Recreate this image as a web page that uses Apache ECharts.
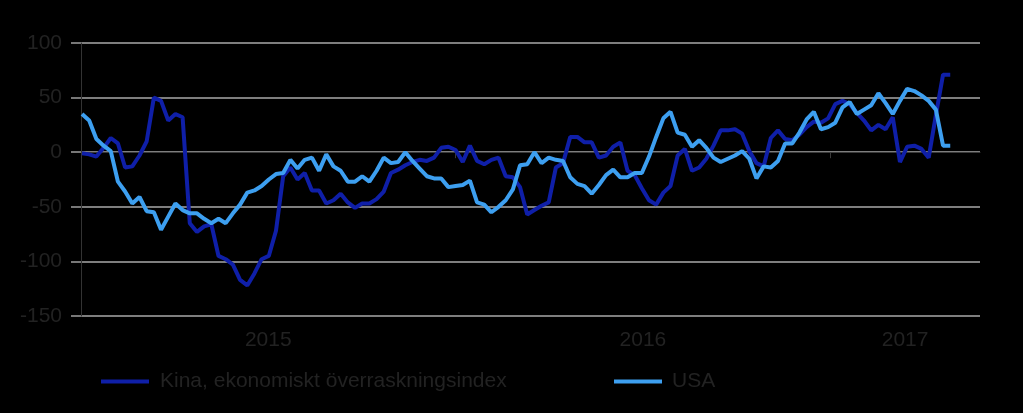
<!DOCTYPE html>
<html>
<head>
<meta charset="utf-8">
<script src="https://cdn.jsdelivr.net/npm/echarts@6/dist/echarts.min.js"></script>
<style>
  html, body { margin: 0; padding: 0; background: #000; }
  #chart { width: 1023px; height: 413px; }
</style>
</head>
<body>
<div id="chart"></div>
<script>
// Weekly observations, first one on this date
const firstWeek = '2015-01-02';

// Kina, ekonomiskt överraskningsindex (weekly)
const kina = [
  -1, -2, -4, 4, 13, 8, -14, -13, -3, 10,
  50, 47, 29, 35, 32, -65, -73, -68, -66, -95,
  -98, -103, -117, -122, -111, -98, -95, -72, -22, -14,
  -25, -19, -35, -35, -47, -44, -38, -46, -51, -47,
  -47, -43, -36, -19, -16, -12, -9, -7, -8, -5,
  4, 5, 2, -9, 6, -8, -11, -7, -5, -22,
  -23, -32, -57, -53, -49, -46, -14, -10, 14, 14,
  9, 9, -5, -3, 5, 9, -17, -21, -33, -44,
  -48, -37, -31, -3, 3, -17, -14, -6, 6, 20,
  20, 21, 17, 1, -10, -13, 13, 20, 12, 11,
  16, 23, 28, 27, 31, 44, 47, 44, 36, 29,
  20, 25, 21, 32, -9, 5, 6, 3, -5, 34,
  71, 71
];

// USA (weekly)
const usa = [
  35, 29, 12, 6, 1, -27, -36, -47, -41, -54,
  -55, -71, -59, -47, -53, -56, -56, -61, -65, -61,
  -65, -56, -48, -37, -35, -31, -25, -20, -19, -7,
  -15, -7, -5, -17, -2, -13, -17, -27, -27, -22,
  -27, -17, -5, -10, -9, 0, -8, -15, -22, -24,
  -24, -32, -31, -30, -26, -46, -48, -55, -50, -44,
  -34, -12, -11, 0, -10, -5, -7, -8, -23, -29,
  -31, -38, -30, -21, -16, -23, -23, -19, -19, -4,
  14, 31, 37, 18, 16, 5, 11, 4, -5, -9,
  -6, -3, 1, -6, -24, -13, -14, -8, 8, 8,
  18, 30, 37, 21, 23, 27, 41, 46, 35, 39,
  43, 54, 45, 35, 47, 58, 56, 52, 47, 39,
  6, 6
];

const seriesNames = ['Kina, ekonomiskt överraskningsindex', 'USA'];
const yearLabels = ['2015', '2016', '2017'];
const yTicks = [-150, -100, -50, 0, 50, 100];

// axis range in (fractional) years
const X_MIN = 2015;
const X_MAX = 2017.4;

function fracYear(ms) {
  const d = new Date(ms);
  const y = d.getUTCFullYear();
  const a = Date.UTC(y, 0, 1), b = Date.UTC(y + 1, 0, 1);
  return y + (ms - a) / (b - a);
}
const startMs = Date.parse(firstWeek + 'T00:00:00Z');
const WEEK = 7 * 86400000;
const xOf = i => fracYear(startMs + i * WEEK);

const kinaData = kina.map((v, i) => [xOf(i), v]);
const usaData = usa.map((v, i) => [xOf(i), v]);

const yearStarts = yearLabels.map(Number);
const labelPos = yearStarts.map(y => (Math.max(y, X_MIN) + Math.min(y + 1, X_MAX)) / 2);

const TEXT = '#222222';
const FONT = 'Liberation Sans, Arial, sans-serif';
const FS = 21;
const DARK = '#0f1fa8';
const LIGHT = '#3d9ff0';

const chart = echarts.init(document.getElementById('chart'), null, { renderer: 'canvas' });
chart.setOption({
  backgroundColor: '#000',
  animation: false,
  grid: { left: 81, right: 43, top: 43, bottom: 97, containLabel: false },
  legend: [
    {
      data: [seriesNames[0]], left: 96, top: 366, icon: 'rect', itemWidth: 48, itemHeight: 4,
      textStyle: { color: TEXT, fontSize: FS, fontFamily: FONT, padding: [0, 0, 0, 6] }
    },
    {
      data: [seriesNames[1]], left: 609, top: 366, icon: 'rect', itemWidth: 48, itemHeight: 4,
      textStyle: { color: TEXT, fontSize: FS, fontFamily: FONT, padding: [0, 0, 0, 5] }
    }
  ],
  xAxis: {
    type: 'value', min: X_MIN, max: X_MAX,
    axisLine: { show: true, lineStyle: { color: '#3a3a3a', width: 1 } },
    axisTick: { show: true, length: 6, customValues: yearStarts, lineStyle: { color: '#3a3a3a' } },
    splitLine: { show: false },
    axisLabel: {
      customValues: labelPos,
      formatter: v => yearLabels[labelPos.findIndex(p => Math.abs(p - v) < 1e-6)] || '',
      color: TEXT, fontSize: FS, fontFamily: FONT, margin: 14
    }
  },
  yAxis: {
    type: 'value', min: yTicks[0], max: yTicks[yTicks.length - 1], interval: 50,
    axisLine: { show: true, lineStyle: { color: '#333', width: 1 } },
    axisTick: { show: true, length: 10, lineStyle: { color: '#777', width: 2 } },
    splitLine: { show: true, lineStyle: { color: '#7e7e7e', width: 2 } },
    axisLabel: { color: TEXT, fontSize: FS, fontFamily: FONT, margin: 19 }
  },
  series: [
    {
      name: seriesNames[0], type: 'line', data: kinaData, showSymbol: false, symbol: 'none',
      lineStyle: { color: DARK, width: 4 }, itemStyle: { color: DARK }
    },
    {
      name: seriesNames[1], type: 'line', data: usaData, showSymbol: false, symbol: 'none',
      lineStyle: { color: LIGHT, width: 4 }, itemStyle: { color: LIGHT }
    }
  ]
});
</script>
</body>
</html>
